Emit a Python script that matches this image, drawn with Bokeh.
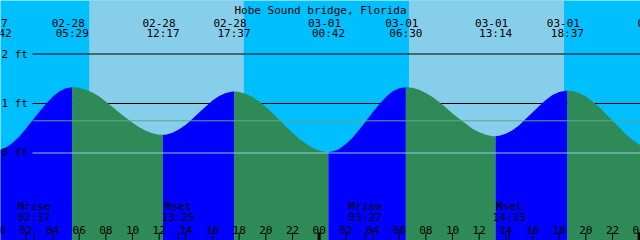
import pandas as pd
from bokeh.plotting import figure
from bokeh.models import Range1d, BoxAnnotation, ColumnDataSource
from bokeh.core.properties import value
from bokeh.embed import file_html
from bokeh.resources import INLINE

# ---------------- data ----------------
TITLE = "Hobe Sound bridge, Florida"
YEAR = "2023"
ORIGIN = "02-28 00:00"

extreme_times = ["02-27 23:42", "02-28 05:29", "02-28 12:17", "02-28 17:37",
                 "03-01 00:42", "03-01 06:30", "03-01 13:14", "03-01 18:37",
                 "03-02 01:25"]
extreme_heights = [0.05, 1.33, 0.37, 1.24, 0.02, 1.33, 0.34, 1.26, 0.04]

# tide height read every 30 minutes from 02-28 00:00 to 03-02 01:00 (ft)
SAMPLE_STEP_H = 0.5
sampled_heights = [
    0.06, 0.11, 0.20, 0.33, 0.49, 0.66, 0.83, 0.99, 1.13, 1.24, 1.31, 1.33,
    1.32, 1.28, 1.22, 1.14, 1.04, 0.93, 0.82, 0.71, 0.61, 0.52, 0.45, 0.40,
    0.37, 0.37, 0.41, 0.48, 0.57, 0.69, 0.82, 0.94, 1.06, 1.15, 1.21, 1.24,
    1.23, 1.19, 1.13, 1.04, 0.93, 0.81, 0.67, 0.54, 0.41, 0.29, 0.19, 0.10,
    0.05, 0.02, 0.03, 0.08, 0.18, 0.31, 0.47, 0.64, 0.82, 0.98, 1.13, 1.24,
    1.31, 1.33, 1.32, 1.28, 1.21, 1.13, 1.03, 0.92, 0.80, 0.69, 0.59, 0.49,
    0.42, 0.37, 0.34, 0.35, 0.39, 0.46, 0.56, 0.69, 0.82, 0.95, 1.07, 1.17,
    1.23, 1.26, 1.25, 1.21, 1.14, 1.04, 0.93, 0.79, 0.65, 0.52, 0.38, 0.26,
    0.17, 0.09, 0.05]

sunrise_times = ["02-28 06:45", "03-01 06:44"]
sunset_times = ["02-28 18:21", "03-01 18:22"]

moon_names = ["Mrise", "Mset", "Mrise", "Mset"]
moon_times = ["02-28 02:37", "02-28 13:25", "03-01 03:27", "03-01 14:15"]

level_values = [0, 1, 2]
level_labels = ["0 ft", "1 ft", "2 ft"]
mean_level = 0.65

hour_ticks = list(range(0, 50, 2))
hour_labels = ["%02d" % (h % 24) for h in hour_ticks]
midnights = [24, 48]

# ---------------- styling / layout ----------------
W, H = 640, 240
NIGHT = "#00BFFF"
DAY = "#87CEEB"
FLOOD = "#0000FF"
EBB = "#2E8B57"
DATUM = "#8CCBE8"
MSL = "#5AA98C"
FONT = value("DejaVu Sans Mono")
FS = "11px"
X_START = 0.1            # hours after origin at left edge
X_SPAN = 48.0
Y_TOP, Y_BOT = 3.081, -1.768
GUTTER = 32              # px left of the level lines


def hours(s):
    return (pd.Timestamp(f"{YEAR}-{s}") - pd.Timestamp(f"{YEAR}-{ORIGIN}")) / pd.Timedelta(hours=1)


ext_h = [hours(s) for s in extreme_times]

p = figure(width=W, height=H, x_range=Range1d(X_START, X_START + X_SPAN),
           y_range=Range1d(Y_BOT, Y_TOP), output_backend="svg",
           toolbar_location=None, min_border=0, x_axis_type=None, y_axis_type=None)
p.extra_x_ranges = {"px": Range1d(0, W)}
p.extra_y_ranges = {"px": Range1d(H, 0)}
p.outline_line_color = None
p.background_fill_color = NIGHT
p.border_fill_color = NIGHT
p.grid.visible = False

# daylight
for sr, ss in zip(sunrise_times, sunset_times):
    p.add_layout(BoxAnnotation(left=hours(sr), right=hours(ss), fill_color=DAY,
                               fill_alpha=1, line_color=None, level="underlay"))

# upper level lines (under water)
upper = [v for v in level_values if v > 0]
p.segment(x0=[GUTTER] * len(upper), x1=[W] * len(upper), y0=upper, y1=upper,
          x_range_name="px", line_color="black", line_width=1)

# tide curve
sample_t = [i * SAMPLE_STEP_H for i in range(len(sampled_heights))]
curve = pd.DataFrame({"t": sample_t + ext_h,
                      "h": sampled_heights + extreme_heights}).sort_values("t")
for i in range(len(ext_h) - 1):
    a, b = ext_h[i], ext_h[i + 1]
    seg = curve[(curve.t >= a) & (curve.t <= b)]
    col = FLOOD if extreme_heights[i + 1] > extreme_heights[i] else EBB
    p.varea(x=seg.t.values, y1=[Y_BOT] * len(seg), y2=seg.h.values,
            fill_color=col, fill_alpha=1)

# datum and mean lines (over water)
p.segment(x0=[GUTTER], x1=[W], y0=[0], y1=[0], x_range_name="px",
          line_color=DATUM, line_width=1)
p.segment(x0=[GUTTER], x1=[W], y0=[mean_level], y1=[mean_level], x_range_name="px",
          line_color=MSL, line_width=1)

# level labels
p.text(x=[1] * 3, y=level_values, text=level_labels, x_range_name="px",
       text_font=FONT, text_font_size=FS, text_color="black",
       text_baseline="middle", text_align="left")

# title
p.text(x=[W / 2], y=[10], text=[TITLE], x_range_name="px", y_range_name="px",
       text_font=FONT, text_font_size=FS, text_color="black",
       text_baseline="alphabetic", text_align="center")

# extreme labels
ext_src = ColumnDataSource(dict(t=ext_h, d=[s.split()[0] for s in extreme_times],
                                c=[s.split()[1] for s in extreme_times]))
p.text(x="t", y=22, text="d", source=ext_src, y_range_name="px", x_offset=-4,
       text_font=FONT, text_font_size=FS, text_color="black",
       text_baseline="alphabetic", text_align="center")
p.text(x="t", y=33, text="c", source=ext_src, y_range_name="px",
       text_font=FONT, text_font_size=FS, text_color="black",
       text_baseline="alphabetic", text_align="center")

# moon labels
moon_h = [hours(s) for s in moon_times]
moon_src = ColumnDataSource(dict(t=moon_h, n=moon_names,
                                 c=[s.split()[1] for s in moon_times]))
p.text(x="t", y=206, text="n", source=moon_src, y_range_name="px",
       text_font=FONT, text_font_size=FS, text_color="black",
       text_baseline="alphabetic", text_align="center")
p.text(x="t", y=217, text="c", source=moon_src, y_range_name="px",
       text_font=FONT, text_font_size=FS, text_color="black",
       text_baseline="alphabetic", text_align="center")

# hour labels and ticks
p.text(x=hour_ticks, y=[229] * len(hour_ticks), text=hour_labels, y_range_name="px",
       text_font=FONT, text_font_size=FS, text_color="black",
       text_baseline="alphabetic", text_align="center")
tick_x = hour_ticks + moon_h
p.segment(x0=tick_x, x1=tick_x, y0=[232] * len(tick_x), y1=[240] * len(tick_x),
          y_range_name="px", line_color="black", line_width=1)
p.segment(x0=midnights, x1=midnights, y0=[232] * len(midnights), y1=[240] * len(midnights),
          y_range_name="px", line_color="black", line_width=3)

open("out.html", "w").write(file_html(p, INLINE))
